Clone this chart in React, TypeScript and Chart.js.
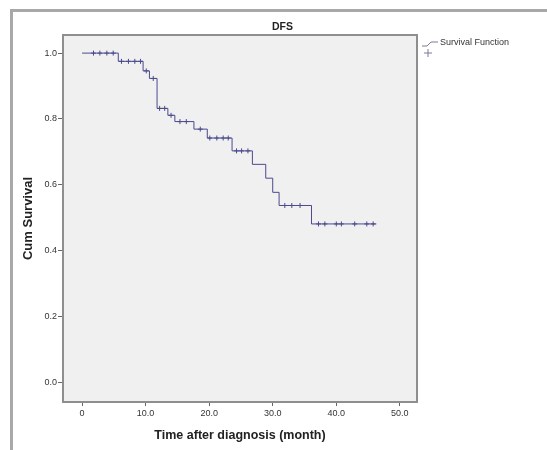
import { useEffect, useRef } from 'react';
import { Chart, registerables } from 'chart.js';

Chart.register(...registerables);

// Kaplan-Meier step curve: time at which each level starts, and its survival level
const eventTimes = [0, 5.7, 9.6, 10.6, 11.8, 13.5, 14.6, 17.6, 19.7, 23.6, 26.8, 28.9, 30.0, 31.0, 36.1];
const survival = [1.0, 0.975, 0.946, 0.923, 0.832, 0.811, 0.792, 0.769, 0.742, 0.703, 0.662, 0.620, 0.577, 0.537, 0.481];
const lastFollowUp = 46.3;

// censored observations (month)
const censorTimes = [1.8, 2.8, 3.9, 4.9, 6.2, 7.3, 8.3, 9.2, 10.1, 11.2, 12.2, 13.0, 14.0, 15.4, 16.4, 18.6,
  20.1, 21.2, 22.2, 23.0, 24.3, 25.1, 26.1, 31.9, 33.0, 34.3, 37.2, 38.2, 40.0, 40.8, 42.9, 44.8, 45.8];

const xTickValues = [0, 10, 20, 30, 40, 50];
const xTickLabels = ['0', '10.0', '20.0', '30.0', '40.0', '50.0'];
const yTickValues = [0, 0.2, 0.4, 0.6, 0.8, 1.0];
const yTickLabels = ['0.0', '0.2', '0.4', '0.6', '0.8', '1.0'];

const titleText = 'DFS';
const xTitle = 'Time after diagnosis (month)';
const yTitle = 'Cum Survival';
const legendLabel = 'Survival Function';

const CURVE = '#4a4a8e';

function levelAt(t: number): number {
  let s = survival[0];
  for (let i = 0; i < eventTimes.length; i++) {
    if (eventTimes[i] <= t) s = survival[i];
  }
  return s;
}

const plotFrame = {
  id: 'plotFrame',
  beforeDraw(chart: any) {
    const { ctx, chartArea: a } = chart;
    ctx.save();
    ctx.fillStyle = '#f0f0f0';
    ctx.fillRect(a.left, a.top, a.right - a.left, a.bottom - a.top);
    ctx.restore();
  },
  afterDraw(chart: any) {
    const { ctx, chartArea: a } = chart;
    ctx.save();
    ctx.strokeStyle = '#8e8e8e';
    ctx.lineWidth = 2;
    ctx.strokeRect(a.left, a.top, a.right - a.left, a.bottom - a.top);
    // legend
    const lx = a.right + 5;
    const ly = a.top + 8;
    ctx.strokeStyle = '#7a7a9a';
    ctx.lineWidth = 1;
    ctx.beginPath();
    ctx.moveTo(lx, ly + 3);
    ctx.lineTo(lx + 5, ly + 3);
    ctx.lineTo(lx + 9, ly - 1);
    ctx.lineTo(lx + 16, ly - 1);
    ctx.stroke();
    ctx.fillStyle = '#333';
    ctx.font = '9px "Liberation Sans", Arial, sans-serif';
    ctx.textBaseline = 'middle';
    ctx.textAlign = 'left';
    ctx.fillText(legendLabel, lx + 18, ly);
    ctx.beginPath();
    ctx.moveTo(lx + 2, ly + 10);
    ctx.lineTo(lx + 10, ly + 10);
    ctx.moveTo(lx + 6, ly + 6);
    ctx.lineTo(lx + 6, ly + 14);
    ctx.stroke();
    ctx.restore();
  },
};

export default function App() {
  const ref = useRef<HTMLCanvasElement>(null);

  useEffect(() => {
    if (!ref.current) return;
    const curve = eventTimes.map((t, i) => ({ x: t, y: survival[i] }));
    curve.push({ x: lastFollowUp, y: survival[survival.length - 1] });
    const censors = censorTimes.map((t) => ({ x: t, y: levelAt(t) }));

    const tickFont = { family: '"Liberation Sans", Arial, sans-serif', size: 9 };

    const chart = new Chart(ref.current, {
      type: 'scatter',
      data: {
        datasets: [
          {
            label: legendLabel,
            data: curve,
            showLine: true,
            stepped: 'before',
            borderColor: CURVE,
            borderWidth: 1,
            pointRadius: 0,
            fill: false,
          },
          {
            label: 'Censored',
            data: censors,
            showLine: false,
            pointStyle: 'cross',
            pointRadius: 2.5,
            borderColor: CURVE,
            borderWidth: 1,
          },
        ],
      },
      options: {
        responsive: false,
        animation: false,
        layout: { padding: { left: 18, right: 0, top: 0, bottom: 0 } },
        plugins: {
          legend: { display: false },
          tooltip: { enabled: false },
          title: {
            display: true,
            text: titleText,
            color: '#222',
            font: { family: '"Liberation Sans", Arial, sans-serif', size: 10.5, weight: 'bold' },
            padding: { top: 20.7, bottom: 1.7 },
          },
        },
        scales: {
          x: {
            type: 'linear',
            min: -3,
            max: 52.7,
            afterBuildTicks: (scale: any) => {
              scale.ticks = xTickValues.map((v) => ({ value: v }));
            },
            afterFit: (scale: any) => {
              scale.height = 48;
            },
            ticks: {
              color: '#333',
              font: tickFont,
              padding: 2,
              maxRotation: 0,
              callback: (v: any) => xTickLabels[xTickValues.indexOf(Number(v))] ?? '',
            },
            grid: { drawOnChartArea: false, drawTicks: true, tickLength: 4, color: '#666' },
            border: { display: false },
            title: {
              display: true,
              text: xTitle,
              color: '#222',
              font: { family: '"Liberation Sans", Arial, sans-serif', size: 12.5, weight: 'bold' },
              padding: { top: 0, bottom: 6.5 },
            },
          },
          y: {
            type: 'linear',
            position: 'left',
            min: -0.06,
            max: 1.055,
            afterBuildTicks: (scale: any) => {
              scale.ticks = yTickValues.map((v) => ({ value: v }));
            },
            afterFit: (scale: any) => {
              scale.width = 45;
            },
            ticks: {
              color: '#333',
              font: tickFont,
              padding: 1,
              callback: (v: any) => {
                const i = yTickValues.findIndex((t) => Math.abs(t - Number(v)) < 1e-6);
                return i >= 0 ? yTickLabels[i] : '';
              },
            },
            grid: { drawOnChartArea: false, drawTicks: true, tickLength: 5, color: '#666' },
            border: { display: false },
            title: {
              display: true,
              text: yTitle,
              color: '#222',
              font: { family: '"Liberation Sans", Arial, sans-serif', size: 13, weight: 'bold' },
              padding: { top: 2.2, bottom: 0 },
            },
          },
          legendSpace: {
            type: 'linear',
            position: 'right',
            display: true,
            afterFit: (scale: any) => {
              scale.width = 130;
            },
            ticks: { display: false },
            grid: { display: false, drawTicks: false },
            border: { display: false },
          },
        },
      },
      plugins: [plotFrame],
    });
    return () => chart.destroy();
  }, []);

  return (
    <div style={{ position: 'fixed', left: 0, top: 0, width: 547, height: 450, background: '#fff' }}>
      <div
        style={{
          position: 'absolute',
          left: 10,
          top: 9,
          width: 540,
          height: 445,
          borderLeft: '3px solid #a8a8a8',
          borderTop: '3px solid #a8a8a8',
        }}
      />
      <canvas ref={ref} width={547} height={450} style={{ position: 'absolute', left: 0, top: 0 }} />
    </div>
  );
}
